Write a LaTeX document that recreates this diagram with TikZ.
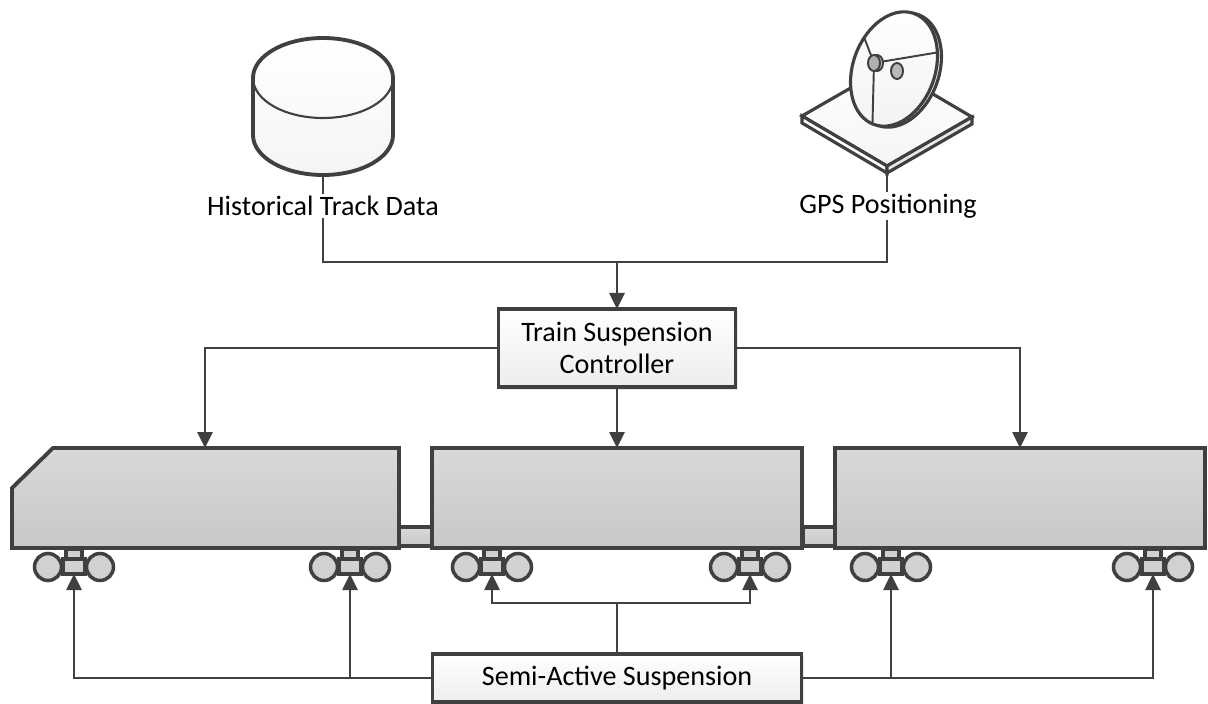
\documentclass[tikz,border=0pt]{standalone}
\usepackage{fontspec}
\setmainfont{Carlito}
\usepackage{tikz}
\usetikzlibrary{calc,arrows.meta,shadows}

\definecolor{edge}{HTML}{404040}

\begin{document}
\begin{tikzpicture}[x=0.2mm,y=-0.2mm,every node/.style={outer sep=0pt,font=\fontsize{16}{18.5}\selectfont}]
\tikzstyle{link}=[draw=edge,line width=1.5pt]
\tikzstyle{arrow}=[link,-{Triangle[length=0.32cm,width=0.3cm]}]
\tikzstyle{box}=[draw=edge,line width=2.2pt,top color=white,bottom color=gray!14,align=center,drop shadow={opacity=0.2,shadow xshift=0.05cm,shadow yshift=-0.05cm}]
\tikzstyle{body}=[draw=edge,line width=2.2pt,top color=gray!30,bottom color=gray!43]
\tikzstyle{car}=[body,minimum height=2cm]
\tikzstyle{wheel}=[draw=edge,line width=2pt,fill=gray!36]
\tikzstyle{txt}=[fill=white,inner sep=1pt]

\useasboundingbox (0,0) rectangle (1208,704);

% track database
\draw [draw=edge,line width=2.2pt,top color=white,bottom color=gray!8] (253,78) -- (253,135) arc[start angle=180,end angle=0,x radius=70,y radius=40] -- (393,78) arc[start angle=0,end angle=-180,x radius=70,y radius=40] -- cycle;
\draw [edge,line width=1.2pt] (253,78) arc[start angle=180,end angle=0,x radius=70,y radius=40];
\coordinate (db) at (323,175);

% gps dish on its plate
\draw [edge,line width=1.8pt,top color=white,bottom color=gray!8] (802,116) -- (887,67) -- (972,117) -- (887,166) -- cycle;
\draw [edge,line width=1.8pt,fill=white] (802,116) -- (887,166) -- (887,173) -- (802,123) -- cycle;
\draw [edge,line width=1.8pt,fill=gray!18] (887,166) -- (972,117) -- (972,124) -- (887,173) -- cycle;
\draw [edge,line width=1.8pt,fill=gray!15,rotate around={-20:(898,70)}] (898,70) ellipse[x radius=41,y radius=59];
\draw [edge,line width=1.8pt,top color=white,bottom color=gray!10,rotate around={-20:(894,69)}] (894,69) ellipse[x radius=41,y radius=59];
\begin{scope}
\clip [rotate around={-20:(894,69)}] (894,69) ellipse[x radius=41,y radius=59];
\draw [edge,line width=1.1pt] (850,1) -- (874,63) -- (994,43);
\draw [edge,line width=1.1pt] (874,63) -- (871,183);
\end{scope}
\draw [edge,line width=1.1pt,fill=gray!45] (877,63) ellipse[x radius=6,y radius=8];
\draw [edge,line width=1.1pt,fill=gray!62] (874,63) ellipse[x radius=6,y radius=8];
\draw [edge,line width=1.1pt,fill=gray!55] (897,71) ellipse[x radius=6,y radius=8];
\coordinate (gps) at (887,173);

\node (ctrl) [box,minimum width=4.74cm,minimum height=1.56cm] at (617,348) {Train Suspension\\Controller};
\coordinate (join) at (617,262);
\draw [link] (db) |- (join);
\draw [link] (gps) |- (join);
\draw [arrow] (join) -- (ctrl.north);

\node (hist_txt) [txt] at (323,206) {Historical Track Data};
\node (gps_txt) [txt] at (888,206) {GPS Positioning};

% couplers, then the three cars
\draw [body] (399,527) rectangle (433,546);
\draw [body] (803,527) rectangle (835,546);
\draw [body] (12,488) -- (53,448) -- (399,448) -- (399,548) -- (12,548) -- cycle;
\coordinate (car_a) at (205,448);
\node (car_b) [car,minimum width=7.4cm] at (617,498) {};
\node (car_c) [car,minimum width=7.4cm] at (1020,498) {};

\draw [arrow] (ctrl.west) -| (car_a);
\draw [arrow] (ctrl.south) -- (car_b.north);
\draw [arrow] (ctrl.east) -| (car_c.north);

% wheel sets
\foreach \bx [count=\i] in {74,350,492,750,891,1153}{
  \draw [wheel] (\bx-26,567) circle[radius=13.5];
  \draw [wheel] (\bx+26,567) circle[radius=13.5];
  \draw [wheel] (\bx-8,549) rectangle (\bx+8,559);
  \node (bogie_\i) [wheel,inner sep=0pt,minimum width=0.44cm,minimum height=0.3cm] at (\bx,566.5) {};
}

\node (semi) [box,minimum width=7.38cm,minimum height=0.96cm] at (617,678) {Semi-Active Suspension};
\coordinate (mid_join) at (617,603);
\draw [arrow] (semi.west) -| (bogie_1.south);
\draw [arrow] (semi.west -| bogie_2.south) -- (bogie_2.south);
\draw [link] (semi.north) -- (mid_join);
\draw [arrow] (mid_join) -| (bogie_3.south);
\draw [arrow] (mid_join) -| (bogie_4.south);
\draw [arrow] (semi.east) -| (bogie_6.south);
\draw [arrow] (semi.east -| bogie_5.south) -- (bogie_5.south);

\end{tikzpicture}
\end{document}
